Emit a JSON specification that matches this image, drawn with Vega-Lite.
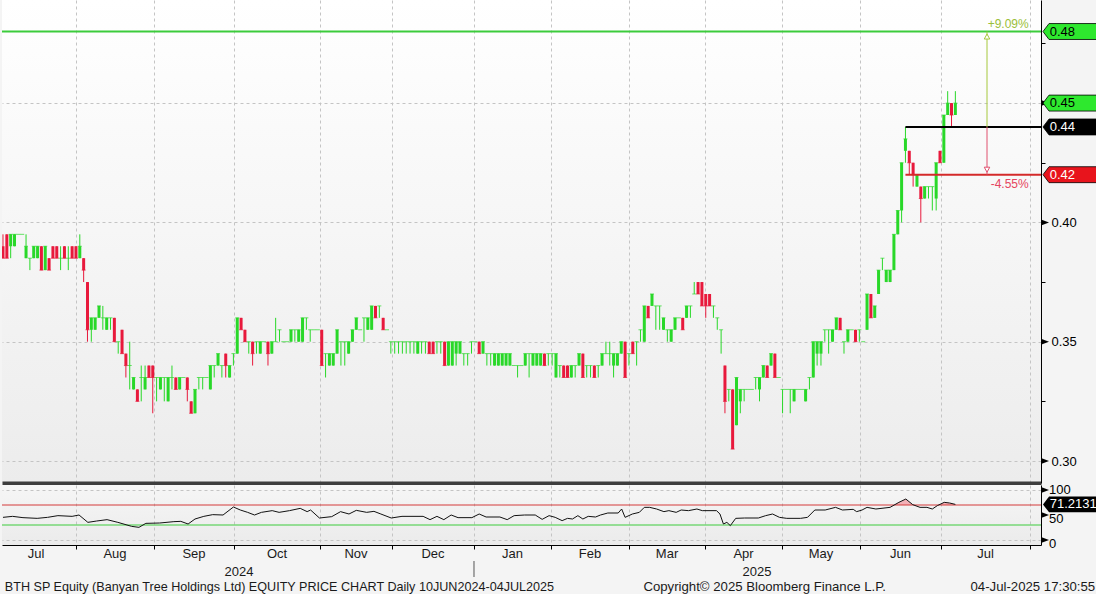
{
"$schema":"https://vega.github.io/schema/vega-lite/v6.json",
"padding":0,
"background":"#f4f4f4",
"spacing":2,
"bounds":"flush",
"config":{"font":"Liberation Sans","view":{"stroke":null},"axis":{"labelFont":"Liberation Sans"}},
"datasets":{
"ohlc":[
{"i":0,"o":0.39,"h":0.395,"l":0.385,"c":0.385},{"i":1,"o":0.395,"h":0.395,"l":0.385,"c":0.385},{"i":2,"o":0.39,"h":0.395,"l":0.385,"c":0.395},{"i":3,"o":0.39,"h":0.395,"l":0.39,"c":0.395},{"i":4,"o":0.395,"h":0.395,"l":0.395,"c":0.395},{"i":5,"o":0.395,"h":0.395,"l":0.395,"c":0.395},{"i":6,"o":0.385,"h":0.395,"l":0.385,"c":0.39},{"i":7,"o":0.385,"h":0.385,"l":0.38,"c":0.385},{"i":8,"o":0.385,"h":0.39,"l":0.385,"c":0.39},{"i":9,"o":0.385,"h":0.39,"l":0.385,"c":0.39},
{"i":10,"o":0.39,"h":0.39,"l":0.38,"c":0.38},{"i":11,"o":0.38,"h":0.39,"l":0.38,"c":0.39},{"i":12,"o":0.385,"h":0.385,"l":0.38,"c":0.38},{"i":13,"o":0.39,"h":0.39,"l":0.385,"c":0.385},{"i":14,"o":0.39,"h":0.39,"l":0.385,"c":0.385},{"i":15,"o":0.385,"h":0.39,"l":0.38,"c":0.385},{"i":16,"o":0.39,"h":0.39,"l":0.385,"c":0.385},{"i":17,"o":0.385,"h":0.39,"l":0.38,"c":0.385},{"i":18,"o":0.39,"h":0.39,"l":0.385,"c":0.385},{"i":19,"o":0.39,"h":0.39,"l":0.385,"c":0.385},
{"i":20,"o":0.385,"h":0.395,"l":0.385,"c":0.39},{"i":21,"o":0.385,"h":0.385,"l":0.375,"c":0.38},{"i":22,"o":0.375,"h":0.375,"l":0.35,"c":0.355},{"i":23,"o":0.355,"h":0.36,"l":0.35,"c":0.36},{"i":24,"o":0.355,"h":0.36,"l":0.355,"c":0.36},{"i":25,"o":0.36,"h":0.365,"l":0.36,"c":0.365},{"i":26,"o":0.36,"h":0.365,"l":0.355,"c":0.36},{"i":27,"o":0.355,"h":0.36,"l":0.355,"c":0.36},{"i":28,"o":0.36,"h":0.36,"l":0.355,"c":0.36},{"i":29,"o":0.36,"h":0.36,"l":0.35,"c":0.35},
{"i":30,"o":0.35,"h":0.35,"l":0.345,"c":0.35},{"i":31,"o":0.355,"h":0.355,"l":0.345,"c":0.345},{"i":32,"o":0.345,"h":0.345,"l":0.335,"c":0.34},{"i":33,"o":0.34,"h":0.35,"l":0.33,"c":0.34},{"i":34,"o":0.33,"h":0.335,"l":0.33,"c":0.335},{"i":35,"o":0.33,"h":0.33,"l":0.325,"c":0.325},{"i":36,"o":0.335,"h":0.34,"l":0.325,"c":0.335},{"i":37,"o":0.33,"h":0.34,"l":0.33,"c":0.335},{"i":38,"o":0.34,"h":0.34,"l":0.335,"c":0.335},{"i":39,"o":0.34,"h":0.34,"l":0.32,"c":0.335},
{"i":40,"o":0.335,"h":0.335,"l":0.325,"c":0.335},{"i":41,"o":0.33,"h":0.335,"l":0.33,"c":0.335},{"i":42,"o":0.335,"h":0.335,"l":0.325,"c":0.335},{"i":43,"o":0.325,"h":0.335,"l":0.325,"c":0.335},{"i":44,"o":0.335,"h":0.34,"l":0.33,"c":0.335},{"i":45,"o":0.335,"h":0.335,"l":0.33,"c":0.33},{"i":46,"o":0.33,"h":0.335,"l":0.33,"c":0.335},{"i":47,"o":0.335,"h":0.335,"l":0.335,"c":0.335},{"i":48,"o":0.335,"h":0.335,"l":0.325,"c":0.33},{"i":49,"o":0.325,"h":0.325,"l":0.32,"c":0.32},
{"i":50,"o":0.32,"h":0.33,"l":0.32,"c":0.33},{"i":51,"o":0.335,"h":0.335,"l":0.33,"c":0.335},{"i":52,"o":0.335,"h":0.335,"l":0.33,"c":0.335},{"i":53,"o":0.335,"h":0.335,"l":0.335,"c":0.335},{"i":54,"o":0.33,"h":0.34,"l":0.33,"c":0.34},{"i":55,"o":0.34,"h":0.34,"l":0.335,"c":0.34},{"i":56,"o":0.34,"h":0.345,"l":0.34,"c":0.345},{"i":57,"o":0.34,"h":0.34,"l":0.335,"c":0.34},{"i":58,"o":0.345,"h":0.345,"l":0.335,"c":0.34},{"i":59,"o":0.335,"h":0.34,"l":0.335,"c":0.34},
{"i":60,"o":0.345,"h":0.345,"l":0.34,"c":0.345},{"i":61,"o":0.345,"h":0.36,"l":0.345,"c":0.36},{"i":62,"o":0.36,"h":0.36,"l":0.355,"c":0.355},{"i":63,"o":0.355,"h":0.355,"l":0.35,"c":0.35},{"i":64,"o":0.35,"h":0.35,"l":0.345,"c":0.35},{"i":65,"o":0.35,"h":0.35,"l":0.34,"c":0.345},{"i":66,"o":0.35,"h":0.35,"l":0.345,"c":0.35},{"i":67,"o":0.345,"h":0.35,"l":0.345,"c":0.35},{"i":68,"o":0.35,"h":0.35,"l":0.35,"c":0.35},{"i":69,"o":0.35,"h":0.35,"l":0.34,"c":0.345},
{"i":70,"o":0.345,"h":0.35,"l":0.345,"c":0.35},{"i":71,"o":0.35,"h":0.36,"l":0.35,"c":0.35},{"i":72,"o":0.355,"h":0.355,"l":0.35,"c":0.355},{"i":73,"o":0.35,"h":0.35,"l":0.35,"c":0.35},{"i":74,"o":0.35,"h":0.35,"l":0.35,"c":0.35},{"i":75,"o":0.35,"h":0.355,"l":0.35,"c":0.355},{"i":76,"o":0.355,"h":0.355,"l":0.35,"c":0.355},{"i":77,"o":0.35,"h":0.355,"l":0.35,"c":0.355},{"i":78,"o":0.35,"h":0.36,"l":0.35,"c":0.36},{"i":79,"o":0.36,"h":0.36,"l":0.355,"c":0.36},
{"i":80,"o":0.355,"h":0.355,"l":0.35,"c":0.355},{"i":81,"o":0.355,"h":0.355,"l":0.355,"c":0.355},{"i":82,"o":0.355,"h":0.355,"l":0.355,"c":0.355},{"i":83,"o":0.355,"h":0.355,"l":0.34,"c":0.34},{"i":84,"o":0.345,"h":0.345,"l":0.335,"c":0.345},{"i":85,"o":0.34,"h":0.345,"l":0.34,"c":0.345},{"i":86,"o":0.34,"h":0.345,"l":0.34,"c":0.345},{"i":87,"o":0.345,"h":0.355,"l":0.345,"c":0.355},{"i":88,"o":0.35,"h":0.35,"l":0.34,"c":0.35},{"i":89,"o":0.35,"h":0.35,"l":0.34,"c":0.35},
{"i":90,"o":0.345,"h":0.35,"l":0.345,"c":0.35},{"i":91,"o":0.35,"h":0.355,"l":0.35,"c":0.355},{"i":92,"o":0.355,"h":0.36,"l":0.355,"c":0.36},{"i":93,"o":0.355,"h":0.355,"l":0.355,"c":0.355},{"i":94,"o":0.36,"h":0.36,"l":0.35,"c":0.36},{"i":95,"o":0.355,"h":0.36,"l":0.355,"c":0.36},{"i":96,"o":0.355,"h":0.365,"l":0.355,"c":0.365},{"i":97,"o":0.365,"h":0.365,"l":0.36,"c":0.36},{"i":98,"o":0.365,"h":0.365,"l":0.36,"c":0.365},{"i":99,"o":0.36,"h":0.36,"l":0.355,"c":0.355},
{"i":100,"o":0.355,"h":0.355,"l":0.355,"c":0.355},{"i":101,"o":0.35,"h":0.35,"l":0.345,"c":0.35},{"i":102,"o":0.35,"h":0.35,"l":0.345,"c":0.35},{"i":103,"o":0.35,"h":0.35,"l":0.345,"c":0.35},{"i":104,"o":0.35,"h":0.35,"l":0.345,"c":0.35},{"i":105,"o":0.35,"h":0.35,"l":0.345,"c":0.35},{"i":106,"o":0.35,"h":0.35,"l":0.345,"c":0.35},{"i":107,"o":0.35,"h":0.35,"l":0.345,"c":0.35},{"i":108,"o":0.345,"h":0.35,"l":0.345,"c":0.35},{"i":109,"o":0.35,"h":0.35,"l":0.345,"c":0.35},
{"i":110,"o":0.35,"h":0.35,"l":0.345,"c":0.35},{"i":111,"o":0.35,"h":0.35,"l":0.345,"c":0.345},{"i":112,"o":0.35,"h":0.35,"l":0.345,"c":0.345},{"i":113,"o":0.35,"h":0.35,"l":0.345,"c":0.35},{"i":114,"o":0.35,"h":0.35,"l":0.345,"c":0.35},{"i":115,"o":0.35,"h":0.35,"l":0.34,"c":0.34},{"i":116,"o":0.34,"h":0.35,"l":0.34,"c":0.35},{"i":117,"o":0.34,"h":0.35,"l":0.34,"c":0.35},{"i":118,"o":0.345,"h":0.35,"l":0.34,"c":0.35},{"i":119,"o":0.345,"h":0.35,"l":0.345,"c":0.35},
{"i":120,"o":0.345,"h":0.345,"l":0.34,"c":0.345},{"i":121,"o":0.345,"h":0.345,"l":0.34,"c":0.345},{"i":122,"o":0.35,"h":0.35,"l":0.345,"c":0.35},{"i":123,"o":0.35,"h":0.35,"l":0.35,"c":0.35},{"i":124,"o":0.35,"h":0.35,"l":0.345,"c":0.345},{"i":125,"o":0.345,"h":0.35,"l":0.345,"c":0.35},{"i":126,"o":0.345,"h":0.345,"l":0.34,"c":0.345},{"i":127,"o":0.345,"h":0.345,"l":0.34,"c":0.345},{"i":128,"o":0.34,"h":0.345,"l":0.34,"c":0.345},{"i":129,"o":0.34,"h":0.345,"l":0.34,"c":0.345},
{"i":130,"o":0.34,"h":0.345,"l":0.34,"c":0.345},{"i":131,"o":0.34,"h":0.345,"l":0.34,"c":0.345},{"i":132,"o":0.34,"h":0.345,"l":0.34,"c":0.345},{"i":133,"o":0.34,"h":0.34,"l":0.34,"c":0.34},{"i":134,"o":0.34,"h":0.34,"l":0.335,"c":0.34},{"i":135,"o":0.34,"h":0.34,"l":0.34,"c":0.34},{"i":136,"o":0.34,"h":0.345,"l":0.34,"c":0.345},{"i":137,"o":0.345,"h":0.345,"l":0.335,"c":0.345},{"i":138,"o":0.34,"h":0.345,"l":0.34,"c":0.345},{"i":139,"o":0.34,"h":0.345,"l":0.34,"c":0.345},
{"i":140,"o":0.34,"h":0.345,"l":0.34,"c":0.345},{"i":141,"o":0.345,"h":0.345,"l":0.34,"c":0.34},{"i":142,"o":0.345,"h":0.345,"l":0.34,"c":0.345},{"i":143,"o":0.345,"h":0.345,"l":0.34,"c":0.345},{"i":144,"o":0.335,"h":0.345,"l":0.335,"c":0.345},{"i":145,"o":0.34,"h":0.34,"l":0.335,"c":0.34},{"i":146,"o":0.34,"h":0.34,"l":0.335,"c":0.335},{"i":147,"o":0.34,"h":0.34,"l":0.335,"c":0.335},{"i":148,"o":0.335,"h":0.34,"l":0.335,"c":0.34},{"i":149,"o":0.34,"h":0.34,"l":0.335,"c":0.34},
{"i":150,"o":0.34,"h":0.345,"l":0.34,"c":0.345},{"i":151,"o":0.345,"h":0.345,"l":0.335,"c":0.335},{"i":152,"o":0.34,"h":0.34,"l":0.335,"c":0.34},{"i":153,"o":0.34,"h":0.34,"l":0.335,"c":0.34},{"i":154,"o":0.34,"h":0.34,"l":0.335,"c":0.335},{"i":155,"o":0.34,"h":0.34,"l":0.335,"c":0.34},{"i":156,"o":0.34,"h":0.345,"l":0.34,"c":0.345},{"i":157,"o":0.345,"h":0.35,"l":0.345,"c":0.345},{"i":158,"o":0.345,"h":0.35,"l":0.34,"c":0.345},{"i":159,"o":0.34,"h":0.345,"l":0.335,"c":0.345},
{"i":160,"o":0.34,"h":0.345,"l":0.34,"c":0.345},{"i":161,"o":0.345,"h":0.35,"l":0.345,"c":0.35},{"i":162,"o":0.35,"h":0.35,"l":0.335,"c":0.335},{"i":163,"o":0.345,"h":0.345,"l":0.34,"c":0.345},{"i":164,"o":0.35,"h":0.35,"l":0.345,"c":0.345},{"i":165,"o":0.35,"h":0.35,"l":0.34,"c":0.35},{"i":166,"o":0.355,"h":0.355,"l":0.35,"c":0.355},{"i":167,"o":0.35,"h":0.365,"l":0.35,"c":0.365},{"i":168,"o":0.365,"h":0.365,"l":0.36,"c":0.36},{"i":169,"o":0.365,"h":0.37,"l":0.365,"c":0.37},
{"i":170,"o":0.365,"h":0.365,"l":0.355,"c":0.365},{"i":171,"o":0.365,"h":0.365,"l":0.355,"c":0.365},{"i":172,"o":0.355,"h":0.36,"l":0.355,"c":0.36},{"i":173,"o":0.355,"h":0.355,"l":0.35,"c":0.355},{"i":174,"o":0.35,"h":0.355,"l":0.35,"c":0.355},{"i":175,"o":0.355,"h":0.36,"l":0.355,"c":0.36},{"i":176,"o":0.36,"h":0.36,"l":0.36,"c":0.36},{"i":177,"o":0.36,"h":0.36,"l":0.355,"c":0.355},{"i":178,"o":0.36,"h":0.365,"l":0.36,"c":0.365},{"i":179,"o":0.365,"h":0.365,"l":0.36,"c":0.365},
{"i":180,"o":0.37,"h":0.375,"l":0.37,"c":0.37},{"i":181,"o":0.375,"h":0.375,"l":0.37,"c":0.37},{"i":182,"o":0.375,"h":0.375,"l":0.365,"c":0.365},{"i":183,"o":0.37,"h":0.37,"l":0.36,"c":0.365},{"i":184,"o":0.37,"h":0.37,"l":0.365,"c":0.365},{"i":185,"o":0.365,"h":0.365,"l":0.36,"c":0.365},{"i":186,"o":0.36,"h":0.36,"l":0.355,"c":0.36},{"i":187,"o":0.355,"h":0.355,"l":0.345,"c":0.355},{"i":188,"o":0.34,"h":0.34,"l":0.32,"c":0.325},{"i":189,"o":0.33,"h":0.33,"l":0.325,"c":0.33},
{"i":190,"o":0.33,"h":0.33,"l":0.305,"c":0.305},{"i":191,"o":0.315,"h":0.335,"l":0.315,"c":0.335},{"i":192,"o":0.325,"h":0.33,"l":0.32,"c":0.33},{"i":193,"o":0.33,"h":0.33,"l":0.325,"c":0.33},{"i":194,"o":0.33,"h":0.33,"l":0.33,"c":0.33},{"i":195,"o":0.33,"h":0.33,"l":0.33,"c":0.33},{"i":196,"o":0.335,"h":0.335,"l":0.33,"c":0.335},{"i":197,"o":0.33,"h":0.335,"l":0.325,"c":0.335},{"i":198,"o":0.335,"h":0.34,"l":0.335,"c":0.34},{"i":199,"o":0.34,"h":0.34,"l":0.335,"c":0.335},
{"i":200,"o":0.34,"h":0.345,"l":0.34,"c":0.345},{"i":201,"o":0.345,"h":0.345,"l":0.335,"c":0.335},{"i":202,"o":0.335,"h":0.335,"l":0.335,"c":0.335},{"i":203,"o":0.33,"h":0.33,"l":0.32,"c":0.33},{"i":204,"o":0.33,"h":0.33,"l":0.33,"c":0.33},{"i":205,"o":0.33,"h":0.33,"l":0.32,"c":0.33},{"i":206,"o":0.325,"h":0.33,"l":0.325,"c":0.33},{"i":207,"o":0.33,"h":0.33,"l":0.33,"c":0.33},{"i":208,"o":0.33,"h":0.33,"l":0.33,"c":0.33},{"i":209,"o":0.325,"h":0.33,"l":0.325,"c":0.33},
{"i":210,"o":0.335,"h":0.335,"l":0.33,"c":0.335},{"i":211,"o":0.335,"h":0.35,"l":0.335,"c":0.35},{"i":212,"o":0.345,"h":0.35,"l":0.34,"c":0.35},{"i":213,"o":0.345,"h":0.35,"l":0.34,"c":0.35},{"i":214,"o":0.355,"h":0.355,"l":0.35,"c":0.355},{"i":215,"o":0.355,"h":0.355,"l":0.345,"c":0.355},{"i":216,"o":0.35,"h":0.355,"l":0.35,"c":0.355},{"i":217,"o":0.355,"h":0.36,"l":0.355,"c":0.36},{"i":218,"o":0.36,"h":0.36,"l":0.355,"c":0.355},{"i":219,"o":0.35,"h":0.35,"l":0.345,"c":0.35},
{"i":220,"o":0.35,"h":0.355,"l":0.35,"c":0.355},{"i":221,"o":0.355,"h":0.355,"l":0.355,"c":0.355},{"i":222,"o":0.355,"h":0.355,"l":0.35,"c":0.35},{"i":223,"o":0.355,"h":0.355,"l":0.35,"c":0.355},{"i":224,"o":0.35,"h":0.35,"l":0.35,"c":0.35},{"i":225,"o":0.355,"h":0.37,"l":0.355,"c":0.37},{"i":226,"o":0.37,"h":0.37,"l":0.36,"c":0.36},{"i":227,"o":0.36,"h":0.365,"l":0.36,"c":0.365},{"i":228,"o":0.37,"h":0.38,"l":0.37,"c":0.38},{"i":229,"o":0.385,"h":0.385,"l":0.38,"c":0.385},
{"i":230,"o":0.375,"h":0.38,"l":0.375,"c":0.38},{"i":231,"o":0.375,"h":0.38,"l":0.375,"c":0.38},{"i":232,"o":0.38,"h":0.395,"l":0.38,"c":0.395},{"i":233,"o":0.395,"h":0.405,"l":0.395,"c":0.405},{"i":234,"o":0.405,"h":0.425,"l":0.4,"c":0.425},{"i":235,"o":0.43,"h":0.44,"l":0.425,"c":0.435},{"i":236,"o":0.43,"h":0.43,"l":0.42,"c":0.425},{"i":237,"o":0.425,"h":0.425,"l":0.415,"c":0.42},{"i":238,"o":0.415,"h":0.42,"l":0.415,"c":0.42},{"i":239,"o":0.415,"h":0.415,"l":0.4,"c":0.41},
{"i":240,"o":0.41,"h":0.415,"l":0.41,"c":0.415},{"i":241,"o":0.415,"h":0.415,"l":0.41,"c":0.415},{"i":242,"o":0.415,"h":0.415,"l":0.405,"c":0.415},{"i":243,"o":0.41,"h":0.425,"l":0.405,"c":0.425},{"i":244,"o":0.43,"h":0.43,"l":0.425,"c":0.425},{"i":245,"o":0.425,"h":0.445,"l":0.425,"c":0.445},{"i":246,"o":0.445,"h":0.455,"l":0.445,"c":0.45},{"i":247,"o":0.45,"h":0.45,"l":0.44,"c":0.445},{"i":248,"o":0.445,"h":0.455,"l":0.445,"c":0.45}
],
"rsi":[
{"i":0,"v":45.3},{"i":2.5,"v":47.3},{"i":5.2,"v":44.7},{"i":8.9,"v":43.3},{"i":11.6,"v":45.3},{"i":14.3,"v":48.7},{"i":18,"v":47.3},{"i":19.8,"v":50},{"i":22.1,"v":35.3},{"i":24.4,"v":38},{"i":27.1,"v":40.7},{"i":29.9,"v":35.3},{"i":33.5,"v":27.3},{"i":35.4,"v":25.3},{"i":37.2,"v":33.3},{"i":40.8,"v":34},{"i":44.5,"v":36.7},{"i":46.3,"v":37.3},{"i":48.2,"v":32},{"i":50,"v":42},{"i":52.3,"v":47.3},{"i":54.6,"v":50.7},{"i":57.3,"v":50},{"i":60,"v":66},{"i":61.8,"v":60},{"i":63.7,"v":55.3},{"i":65.5,"v":50},{"i":67.3,"v":55.3},{"i":70.1,"v":58.7},{"i":71.9,"v":55.3},{"i":74.6,"v":58.7},{"i":77.4,"v":63.3},{"i":79.2,"v":56.7},{"i":80.1,"v":60},{"i":82.4,"v":44},{"i":85.6,"v":46.7},{"i":87.9,"v":56.7},{"i":90.1,"v":52},{"i":92,"v":59.3},{"i":94.7,"v":55.3},{"i":96.6,"v":57.3},{"i":98.4,"v":52},{"i":101.1,"v":44},{"i":103.9,"v":47.3},{"i":109.4,"v":47.3},{"i":111.2,"v":40.7},{"i":113,"v":47.3},{"i":114.8,"v":40.7},{"i":116.7,"v":50},{"i":118.5,"v":44.7},{"i":122.1,"v":44.7},{"i":124,"v":52},{"i":125.8,"v":46},{"i":129.4,"v":46},{"i":131.3,"v":40.7},{"i":133.1,"v":48.7},{"i":135.8,"v":50},{"i":138.6,"v":50},{"i":140.4,"v":41.3},{"i":142.2,"v":48.7},{"i":143.8,"v":45.3},{"i":145.6,"v":38.7},{"i":147,"v":43.3},{"i":148.3,"v":42},{"i":149.7,"v":48.7},{"i":151,"v":42},{"i":152.4,"v":47.3},{"i":154.3,"v":46},{"i":155.6,"v":50},{"i":157.5,"v":54},{"i":160.2,"v":54},{"i":161.1,"v":62},{"i":162,"v":45.3},{"i":163.9,"v":52},{"i":165.7,"v":55.3},{"i":167,"v":65.3},{"i":168.4,"v":65.3},{"i":170.2,"v":62},{"i":172.1,"v":56.7},{"i":173.4,"v":58.7},{"i":175.3,"v":55.3},{"i":176.6,"v":60},{"i":178.5,"v":58.7},{"i":180.7,"v":62},{"i":182.1,"v":58.7},{"i":185.8,"v":58.7},{"i":186.7,"v":52},{"i":187.6,"v":32},{"i":188.5,"v":35.3},{"i":189.4,"v":28.7},{"i":190.8,"v":43.3},{"i":193.1,"v":44},{"i":196.7,"v":44},{"i":198.6,"v":48.7},{"i":200.4,"v":52},{"i":202.2,"v":45.3},{"i":204.1,"v":43.3},{"i":207.7,"v":43.3},{"i":209.5,"v":45.3},{"i":211.4,"v":60},{"i":214.1,"v":60},{"i":216.8,"v":65.3},{"i":218.6,"v":60},{"i":221.4,"v":61.3},{"i":222.3,"v":56.7},{"i":223.7,"v":60},{"i":225,"v":65.3},{"i":227.3,"v":62},{"i":231,"v":65.3},{"i":233.3,"v":75.3},{"i":235.1,"v":82},{"i":236.9,"v":70.7},{"i":238.8,"v":65.3},{"i":240.6,"v":65.3},{"i":242,"v":62},{"i":243.3,"v":68.7},{"i":245.1,"v":75.3},{"i":246.5,"v":74},{"i":248,"v":71.2131}
],
"ob":[
{"g":1,"i":232.1,"v":70},{"g":1,"i":233.3,"v":75.3},{"g":1,"i":235.1,"v":82},{"g":1,"i":236.9,"v":70.7},{"g":1,"i":237.1,"v":70},
{"g":2,"i":243.65,"v":70},{"g":2,"i":245.1,"v":75.3},{"g":2,"i":246.5,"v":74},{"g":2,"i":248,"v":71.2131}
],
"levels":[
{"k":"hi","p":0.48,"t":"0.48","pct":"+9.09%"},
{"k":"last","p":0.45,"t":"0.45"},
{"k":"ref","p":0.44,"t":"0.44"},
{"k":"lo","p":0.42,"t":"0.42","pct":"-4.55%"}
],
"months":[
{"m":"Jul","i":8.59},{"m":"Aug","i":29.17},{"m":"Sep","i":49.74},{"m":"Oct","i":71.35},{"m":"Nov","i":91.92},{"m":"Dec","i":111.97},{"m":"Jan","i":132.68},{"m":"Feb","i":152.86},{"m":"Mar","i":172.91},{"m":"Apr","i":192.83},{"m":"May","i":213.01},{"m":"Jun","i":233.71},{"m":"Jul","i":255.85}
],
"years":[{"y":"2024","i":61.46},{"y":"2025","i":196.34}],
"yearbreak":[{"i":122.65}],
"rsilevels":[{"v":70,"k":"ob"},{"v":30,"k":"os"}],
"rsiticks":[{"v":0},{"v":50},{"v":100}]
},
"vconcat":[
{
"width":1039,"height":483,
"view":{"stroke":null,"fill":{"gradient":"linear","x1":0,"y1":0,"x2":0,"y2":1,"stops":[{"offset":0,"color":"#ffffff"},{"offset":1,"color":"#ececec"}]}},
"layer":[
{"data":{"name":"ohlc"},"mark":{"type":"rule","strokeWidth":1,"clip":true},
"encoding":{
"x":{"field":"i","type":"quantitative","scale":{"domain":[-0.26,270.3],"nice":false,"zero":false,"padding":0},
"axis":{"orient":"bottom","title":null,"values":[19.01,39.24,60.15,82.55,101.3,122.65,142.7,163.01,182.8,202.98,223.29,244.25,267.43],"labels":false,"ticks":false,"grid":true,"gridDash":[3,3],"gridColor":"#c4c4c4","domainColor":"#3d3d3d","domainWidth":4}},
"y":{"field":"l","type":"quantitative","scale":{"domain":[0.29078,0.49321],"nice":false,"zero":false,"padding":0},
"axis":{"orient":"right","title":null,"values":[0.3,0.325,0.35,0.375,0.4,0.425,0.45,0.475],"labelExpr":"round(datum.value*1000) % 50 == 0 ? format(datum.value, '.2f') : ''","tickSize":4,"tickColor":"#000000","tickWidth":1,"domainColor":"#000000","labelFontSize":13,"labelColor":"#000000","labelPadding":6,"grid":true,"gridDash":[3,3],"gridColor":{"condition":{"test":"round(datum.value*1000) % 50 != 0","value":"rgba(0,0,0,0)"},"value":"#c4c4c4"}}},
"y2":{"field":"h"},
"color":{"condition":{"test":"datum.c < datum.o","value":"#e8193c"},"value":"#29d829"}}},
{"data":{"name":"ohlc"},"mark":{"type":"bar","width":3,"clip":true},
"encoding":{"x":{"field":"i","type":"quantitative"},"y":{"field":"o","type":"quantitative"},"y2":{"field":"c"},
"color":{"condition":{"test":"datum.c < datum.o","value":"#e8193c"},"value":"#29d829"}}},
{"data":{"name":"ohlc"},"mark":{"type":"tick","orient":"horizontal","thickness":1,"clip":true},
"encoding":{"x":{"field":"i","type":"quantitative"},"y":{"field":"c","type":"quantitative"},"size":{"value":4},
"color":{"condition":{"test":"datum.c < datum.o","value":"#e8193c"},"value":"#29d829"}}},
{"data":{"name":"levels"},"transform":[{"filter":"datum.k == 'hi'"}],"mark":{"type":"rule","strokeWidth":2,"color":"#3ccc3c"},
"encoding":{"x":{"datum":-0.26,"type":"quantitative"},"x2":{"datum":270.3},"y":{"field":"p","type":"quantitative"}}},
{"data":{"name":"levels"},"transform":[{"filter":"datum.k == 'ref' || datum.k == 'lo'"}],"mark":{"type":"rule","strokeWidth":2},
"encoding":{"x":{"datum":235,"type":"quantitative"},"x2":{"datum":270.3},"y":{"field":"p","type":"quantitative"},
"color":{"condition":{"test":"datum.k == 'ref'","value":"#000000"},"value":"#d42a2a"}}},
{"data":{"name":"levels"},"transform":[{"filter":"datum.k == 'hi' || datum.k == 'lo'"}],"mark":{"type":"rule","strokeWidth":1},
"encoding":{"x":{"datum":256.24,"type":"quantitative"},"y":{"field":"p","type":"quantitative"},"y2":{"datum":0.44},
"color":{"condition":{"test":"datum.k == 'hi'","value":"#a6c83c"},"value":"#e0506e"}}},
{"data":{"name":"levels"},"transform":[{"filter":"datum.k == 'hi'"}],"mark":{"type":"point","filled":true,"fill":"#ffffff","stroke":"#a6c83c","strokeWidth":1,"size":25,"opacity":1,"shape":"M0,-1L1.1,1L-1.1,1Z","yOffset":5},
"encoding":{"x":{"datum":256.24,"type":"quantitative"},"y":{"field":"p","type":"quantitative"}}},
{"data":{"name":"levels"},"transform":[{"filter":"datum.k == 'lo'"}],"mark":{"type":"point","filled":true,"fill":"#ffffff","stroke":"#e0506e","strokeWidth":1,"size":25,"opacity":1,"shape":"M0,1L1.1,-1L-1.1,-1Z","yOffset":-5},
"encoding":{"x":{"datum":256.24,"type":"quantitative"},"y":{"field":"p","type":"quantitative"}}},
{"data":{"name":"levels"},"transform":[{"filter":"datum.k == 'hi'"}],"mark":{"type":"text","align":"right","baseline":"middle","fontSize":12,"color":"#9bbf3a","yOffset":-7.5},
"encoding":{"x":{"datum":267.1,"type":"quantitative"},"y":{"field":"p","type":"quantitative"},"text":{"field":"pct"}}},
{"data":{"name":"levels"},"transform":[{"filter":"datum.k == 'lo'"}],"mark":{"type":"text","align":"right","baseline":"middle","fontSize":12,"color":"#e64560","yOffset":9.5},
"encoding":{"x":{"datum":267.1,"type":"quantitative"},"y":{"field":"p","type":"quantitative"},"text":{"field":"pct"}}},
{"data":{"values":[{"v":0.3},{"v":0.35},{"v":0.4},{"v":0.45}]},"mark":{"type":"point","filled":true,"shape":"M-1,-0.75L1,0L-1,0.75Z","size":64,"color":"#000000","opacity":1},
"encoding":{"x":{"datum":271.34,"type":"quantitative"},"y":{"field":"v","type":"quantitative"}}},
{"data":{"name":"levels"},"mark":{"type":"point","filled":true,"shape":"M-1,0L-0.78,-0.29L1,-0.29L1,0.29L-0.78,0.29Z","size":3025,"stroke":"#000000","strokeWidth":0.8,"opacity":1},
"encoding":{"x":{"datum":277.98,"type":"quantitative"},"y":{"field":"p","type":"quantitative"},
"fill":{"condition":[{"test":"datum.k == 'ref'","value":"#000000"},{"test":"datum.k == 'lo'","value":"#e8141c"}],"value":"#2ee82e"}}},
{"data":{"name":"levels"},"mark":{"type":"text","align":"left","baseline":"middle","fontSize":13},
"encoding":{"x":{"datum":272.56,"type":"quantitative"},"y":{"field":"p","type":"quantitative"},"text":{"field":"t"},
"color":{"condition":{"test":"datum.k == 'ref' || datum.k == 'lo'","value":"#ffffff"},"value":"#000000"}}}
]
},
{
"width":1039,"height":60,
"view":{"stroke":null,"fill":{"gradient":"linear","x1":0,"y1":0,"x2":0,"y2":1,"stops":[{"offset":0,"color":"#f6f6f6"},{"offset":1,"color":"#ebebeb"}]}},
"layer":[
{"data":{"name":"ob"},"mark":{"type":"area","color":"#f2a0a8","opacity":0.8},
"encoding":{"x":{"field":"i","type":"quantitative","scale":{"domain":[-0.26,270.3],"nice":false,"zero":false,"padding":0},
"axis":{"orient":"bottom","title":null,"values":[19.01,39.24,60.15,82.55,101.3,122.65,142.7,163.01,182.8,202.98,223.29,244.25,267.43],"labels":false,"ticks":true,"tickSize":4,"tickColor":"#000000","grid":true,"gridDash":[3,3],"gridColor":"#c4c4c4","domainColor":"#000000"}},
"y":{"field":"v","type":"quantitative","scale":{"domain":[-10,110],"nice":false,"zero":false},
"axis":{"orient":"right","title":null,"values":[0,50,100],"ticks":false,"labels":false,"grid":true,"gridDash":[3,3],"gridColor":"#c4c4c4","domainColor":"#000000"}},
"y2":{"datum":70},
"detail":{"field":"g"}}},
{"data":{"name":"rsilevels"},"mark":{"type":"rule","strokeWidth":1},
"encoding":{"x":{"datum":-0.26,"type":"quantitative"},"x2":{"datum":270.3},"y":{"field":"v","type":"quantitative"},
"color":{"condition":{"test":"datum.k == 'ob'","value":"#d43a3a"},"value":"#3ccc3c"}}},
{"data":{"name":"rsi"},"mark":{"type":"line","strokeWidth":1,"color":"#111111"},
"encoding":{"x":{"field":"i","type":"quantitative"},"y":{"field":"v","type":"quantitative"}}},
{"data":{"name":"rsiticks"},"mark":{"type":"point","filled":true,"shape":"M-1,-0.75L1,0L-1,0.75Z","size":64,"color":"#000000","opacity":1},
"encoding":{"x":{"datum":271.34,"type":"quantitative"},"y":{"field":"v","type":"quantitative"}}},
{"data":{"name":"rsiticks"},"transform":[{"filter":"datum.v == 100"}],"mark":{"type":"text","align":"left","baseline":"middle","fontSize":13,"color":"#000000","yOffset":0},
"encoding":{"x":{"datum":272.4,"type":"quantitative"},"y":{"field":"v","type":"quantitative"},"text":{"field":"v","format":"d"}}},
{"data":{"name":"rsiticks"},"transform":[{"filter":"datum.v != 100"}],"mark":{"type":"text","align":"left","baseline":"middle","fontSize":13,"color":"#000000","yOffset":3.5},
"encoding":{"x":{"datum":272.4,"type":"quantitative"},"y":{"field":"v","type":"quantitative"},"text":{"field":"v","format":"d"}}},
{"data":{"name":"rsi"},"transform":[{"filter":"datum.i == 248"}],"mark":{"type":"point","filled":true,"shape":"M-1,0L-0.78,-0.29L1,-0.29L1,0.29L-0.78,0.29Z","size":3025,"color":"#000000","opacity":1},
"encoding":{"x":{"datum":277.98,"type":"quantitative"},"y":{"field":"v","type":"quantitative"}}},
{"data":{"name":"rsi"},"transform":[{"filter":"datum.i == 248"}],"mark":{"type":"text","align":"left","baseline":"middle","fontSize":13,"color":"#ffffff"},
"encoding":{"x":{"datum":272.56,"type":"quantitative"},"y":{"field":"v","type":"quantitative"},"text":{"field":"v","format":".4f"}}},
{"data":{"name":"months"},"mark":{"type":"text","align":"center","baseline":"middle","fontSize":13,"color":"#1a1a1a"},
"encoding":{"x":{"field":"i","type":"quantitative"},"y":{"datum":-28,"type":"quantitative"},"text":{"field":"m"}}},
{"data":{"name":"years"},"mark":{"type":"text","align":"center","baseline":"middle","fontSize":13,"color":"#1a1a1a"},
"encoding":{"x":{"field":"i","type":"quantitative"},"y":{"datum":-64,"type":"quantitative"},"text":{"field":"y"}}},
{"data":{"name":"yearbreak"},"mark":{"type":"rule","strokeWidth":1,"color":"#555555"},
"encoding":{"x":{"field":"i","type":"quantitative"},"y":{"datum":-42,"type":"quantitative"},"y2":{"datum":-74}}},
{"data":{"values":[{"t":"BTH SP Equity (Banyan Tree Holdings Ltd) EQUITY PRICE CHART  Daily 10JUN2024-04JUL2025"}]},"mark":{"type":"text","align":"left","baseline":"middle","fontSize":12.6,"color":"#1a1a1a"},
"encoding":{"x":{"datum":0.47,"type":"quantitative"},"y":{"datum":-94,"type":"quantitative"},"text":{"field":"t"}}},
{"data":{"values":[{"t":"Copyright© 2025 Bloomberg Finance L.P."}]},"mark":{"type":"text","align":"left","baseline":"middle","fontSize":13.2,"color":"#1a1a1a"},
"encoding":{"x":{"datum":166.76,"type":"quantitative"},"y":{"datum":-94,"type":"quantitative"},"text":{"field":"t"}}},
{"data":{"values":[{"t":"04-Jul-2025 17:30:55"}]},"mark":{"type":"text","align":"right","baseline":"middle","fontSize":13.2,"color":"#1a1a1a"},
"encoding":{"x":{"datum":284.41,"type":"quantitative"},"y":{"datum":-94,"type":"quantitative"},"text":{"field":"t"}}}
]
}
]
}
